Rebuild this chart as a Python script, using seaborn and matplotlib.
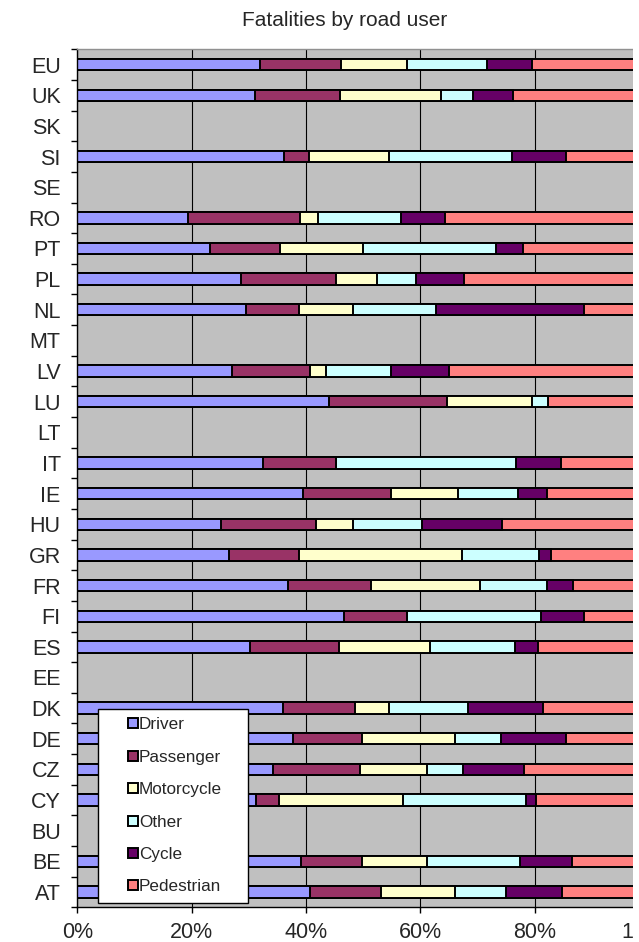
import numpy as np
import pandas as pd
import matplotlib
matplotlib.use('Agg')
import matplotlib.pyplot as plt
from matplotlib.lines import Line2D
from matplotlib.patches import Rectangle
import seaborn as sns

# Countries, top to bottom as in the chart
countries = ['EU', 'UK', 'SK', 'SI', 'SE', 'RO', 'PT', 'PL', 'NL', 'MT', 'LV', 'LU', 'LT', 'IT',
             'IE', 'HU', 'GR', 'FR', 'FI', 'ES', 'EE', 'DK', 'DE', 'CZ', 'CY', 'BU', 'BE', 'AT']
road_users = ['Driver', 'Passenger', 'Motorcycle', 'Other', 'Cycle', 'Pedestrian']
colors = ['#9999FF', '#993366', '#FFFFCC', '#CCFFFF', '#660066', '#FF8080']

# Share of fatalities (%) - None where no data
driver = [31.9, 31.0, None, 36.1, None, 19.3, 23.2, 28.6, 29.5, None, 27.1, 44.1, None, 32.4,
          39.4, 25.2, 26.5, 36.9, 46.6, 30.2, None, 35.9, 37.8, 34.2, 31.2, None, 39.1, 40.7]
passenger = [14.2, 14.9, None, 4.5, None, 19.7, 12.3, 16.6, 9.3, None, 13.6, 20.6, None, 12.8,
             15.5, 16.6, 12.3, 14.5, 11.0, 15.6, None, 12.6, 12.0, 15.3, 4.1, None, 10.7, 12.4]
motorcycle = [11.5, 17.8, None, 13.9, None, 3.1, 14.5, 7.3, 9.4, None, 2.8, 14.8, None, 0.0,
              11.7, 6.5, 28.5, 19.0, 0.0, 15.9, None, 6.0, 16.2, 11.6, 21.6, None, 11.3, 12.9]
other = [14.1, 5.6, None, 21.6, None, 14.6, 23.3, 6.7, 14.6, None, 11.3, 2.9, None, 31.6,
         10.5, 12.0, 13.4, 11.7, 23.5, 14.9, None, 13.8, 8.1, 6.4, 21.5, None, 16.4, 9.0]
cycle = [7.8, 6.9, None, 9.3, None, 7.7, 4.6, 8.5, 25.9, None, 10.2, 0.0, None, 7.8,
         5.0, 13.9, 2.1, 4.6, 7.5, 3.9, None, 13.2, 11.3, 10.6, 1.9, None, 9.1, 9.8]
pedestrian = [20.5, 23.8, None, 14.6, None, 35.6, 22.1, 32.3, 11.3, None, 35.0, 17.6, None, 15.4,
              17.9, 25.8, 17.2, 13.3, 11.4, 19.5, None, 18.5, 14.6, 21.9, 19.7, None, 13.4, 15.2]

x_ticks = [0, 20, 40, 60, 80, 100]
x_labels = ['0%', '20%', '40%', '60%', '80%', '100%']

sns.set_style('white')
plt.rcParams['font.family'] = ['Liberation Sans', 'DejaVu Sans']


def build_frame():
    """Shares per country with running totals for stacking."""
    df = pd.DataFrame({'country': countries, 'Driver': driver, 'Passenger': passenger,
                       'Motorcycle': motorcycle, 'Other': other, 'Cycle': cycle,
                       'Pedestrian': pedestrian})
    df = df.dropna().reset_index(drop=True)
    df[road_users] = df[road_users].astype(float).cumsum(axis=1)
    return df


def main():
    df = build_frame()

    fig = plt.figure(figsize=(6.39, 9.42), dpi=100)
    ax = fig.add_axes([77.3 / 639, 34.7 / 942, 571.7 / 639, 858 / 942])
    ax.set_facecolor('#C0C0C0')

    # draw the running totals longest first so each segment shows through
    for user, col in zip(road_users[::-1], colors[::-1]):
        sns.barplot(data=df, x=user, y='country', order=countries, orient='h',
                    color=col, saturation=1, width=0.37, edgecolor='black',
                    linewidth=1.4, ax=ax)

    ax.set_xlim(0, 100)
    ax.set_ylim(len(countries) - 0.5, -0.5)
    ax.set_xticks(x_ticks)
    ax.set_xticklabels(x_labels)
    ax.set_xlabel('')
    ax.set_ylabel('')
    ax.set_axisbelow(True)
    ax.grid(axis='x', color='black', linewidth=0.8)
    ax.grid(axis='y', visible=False)

    ax.set_yticks(np.arange(len(countries)))
    ax.set_yticklabels(countries)
    ax.set_yticks(np.arange(len(countries) + 1) - 0.5, minor=True)
    ax.tick_params(axis='y', which='major', length=0, pad=12, labelsize=15.5)
    ax.tick_params(axis='y', which='minor', length=4, width=1, direction='out', color='black', left=True)
    ax.tick_params(axis='x', which='major', length=4.5, width=1, direction='out', color='black',
                   bottom=True, pad=6, labelsize=15.5)

    for side in ['left', 'bottom']:
        ax.spines[side].set_color('black')
        ax.spines[side].set_linewidth(1)
    ax.spines['top'].set_color('#909090')
    ax.spines['top'].set_linewidth(1)
    ax.spines['right'].set_visible(False)

    handles = [Line2D([], [], linestyle='none', marker='s', markersize=7,
                      markerfacecolor=c, markeredgecolor='black', markeredgewidth=1.4)
               for c in colors]
    leg = ax.legend(handles, road_users, loc='lower left', mode='expand',
                    bbox_to_anchor=(0.036, 0.005, 0.262, 0.2335), borderaxespad=0,
                    fontsize=12.3, frameon=True, fancybox=False, framealpha=1,
                    edgecolor='black', facecolor='white', borderpad=0.5,
                    labelspacing=1.02, handlelength=3.1, handletextpad=-1.2)
    leg.get_frame().set_linewidth(1)

    fig.text(345 / 639, 1 - 20 / 942, 'Fatalities by road user', ha='center', va='center',
             fontsize=15)

    # the source picture is cut off at the right
    fig.patches.append(Rectangle((633 / 639, 0), 6 / 639, 1, transform=fig.transFigure,
                                 facecolor='white', edgecolor='none', zorder=10))

    fig.savefig('out.png', dpi=100)
    plt.close(fig)


if __name__ == '__main__':
    main()
